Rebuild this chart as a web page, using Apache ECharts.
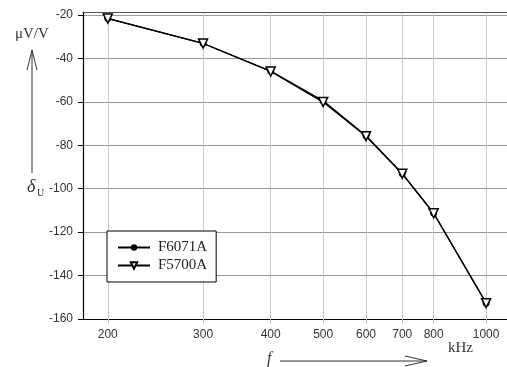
<!DOCTYPE html>
<html>
<head>
<meta charset="utf-8">
<script src="https://cdn.jsdelivr.net/npm/echarts@6/dist/echarts.min.js"></script>
<style>
  html, body { margin: 0; padding: 0; background: #fff; }
  #chart { width: 507px; height: 367px; }
</style>
</head>
<body>
<div id="chart"></div>
<script>
// frequency in kHz
var freqs = [200, 300, 400, 500, 600, 700, 800, 1000];
var freqTicks = [200, 300, 400, 500, 600, 700, 800, 1000];
// deviation in uV/V
var f6071a = [-21.5, -33.0, -45.8, -59.5, -75.6, -93.0, -111.2, -152.6];
var f5700a = [-21.6, -33.1, -46.0, -60.1, -75.8, -93.1, -111.3, -152.7];

var chartDom = document.getElementById('chart');
var myChart = echarts.init(chartDom);

function toPoints(vals) {
  return freqs.map((f, i) => [Math.log10(f), vals[i]]);
}
var logTicks = freqTicks.map(f => Math.log10(f));

var option = {
  animation: false,
  backgroundColor: '#fff',
  grid: { left: 83, top: 12, right: 0, bottom: 48 },
  legend: {
    left: 107, top: 231,
    orient: 'vertical',
    backgroundColor: '#fff',
    borderColor: '#000',
    borderWidth: 1,
    borderRadius: 0,
    padding: [9, 9, 9, 10],
    itemWidth: 32,
    itemHeight: 8,
    itemGap: 3,
    textStyle: { fontFamily: 'Liberation Serif', fontSize: 15, color: '#222', padding: [0, 0, 0, 3] },
    data: ['F6071A', 'F5700A']
  },
  xAxis: [{
    type: 'value',
    min: Math.log10(180),
    max: Math.log10(1093),
    axisLine: { lineStyle: { color: '#000', width: 1.2 } },
    axisTick: { customValues: logTicks, length: 5, lineStyle: { color: '#c8c8c8' } },
    axisLabel: {
      customValues: logTicks,
      formatter: v => String(Math.round(Math.pow(10, v))),
      fontFamily: 'Liberation Sans', fontSize: 12, color: '#333', margin: 10
    },
    splitLine: { show: true, lineStyle: { color: '#c8c8c8', width: 1 } }
  }, {
    type: 'value',
    position: 'top',
    min: 0, max: 1,
    axisLine: { show: true, lineStyle: { color: '#555', width: 1.2 } },
    axisTick: { show: false },
    axisLabel: { show: false },
    splitLine: { show: false }
  }],
  yAxis: {
    type: 'value',
    min: -160,
    max: -18.6,
    interval: 20,
    axisLine: { show: true, lineStyle: { color: '#000', width: 1.2 } },
    axisTick: { show: true, length: 5, lineStyle: { color: '#000' } },
    axisLabel: {
      showMaxLabel: false,
      fontFamily: 'Liberation Sans', fontSize: 12, color: '#333', margin: 10
    },
    splitLine: { lineStyle: { color: '#999', width: 1 } }
  },
  series: [
    {
      name: 'F6071A',
      type: 'line',
      data: toPoints(f6071a),
      symbol: 'circle',
      symbolSize: 7,
      itemStyle: { color: '#000' },
      lineStyle: { color: '#000', width: 1.3 }
    },
    {
      name: 'F5700A',
      type: 'line',
      data: toPoints(f5700a),
      symbol: 'triangle',
      symbolRotate: 180,
      symbolSize: 9,
      itemStyle: { color: '#fff', borderColor: '#000', borderWidth: 1.5 },
      lineStyle: { color: '#000', width: 1.3 }
    }
  ],
  graphic: [
    { type: 'text', left: 15, top: 27, style: { text: 'μV/V', font: '15px "Liberation Serif"', fill: '#333' } },
    { type: 'line', shape: { x1: 32, y1: 50, x2: 32, y2: 173 }, style: { stroke: '#333', lineWidth: 1 } },
    { type: 'polyline', shape: { points: [[27, 70], [32, 50], [37, 70]] }, style: { stroke: '#333', lineWidth: 1, fill: null } },
    { type: 'text', left: 27, top: 178, style: { text: 'δ', font: 'italic 18px "Liberation Serif"', fill: '#333' } },
    { type: 'text', left: 37, top: 188, style: { text: 'U', font: '10px "Liberation Serif"', fill: '#333' } },
    { type: 'text', left: 267, top: 351, style: { text: 'f', font: 'italic 16px "Liberation Serif"', fill: '#333' } },
    { type: 'line', shape: { x1: 280, y1: 361, x2: 427, y2: 361 }, style: { stroke: '#333', lineWidth: 1 } },
    { type: 'polyline', shape: { points: [[405, 356], [427, 361], [405, 366]] }, style: { stroke: '#333', lineWidth: 1, fill: null } },
    { type: 'text', left: 448, top: 341, style: { text: 'kHz', font: '15px "Liberation Serif"', fill: '#333' } }
  ]
};

myChart.setOption(option);
</script>
</body>
</html>
